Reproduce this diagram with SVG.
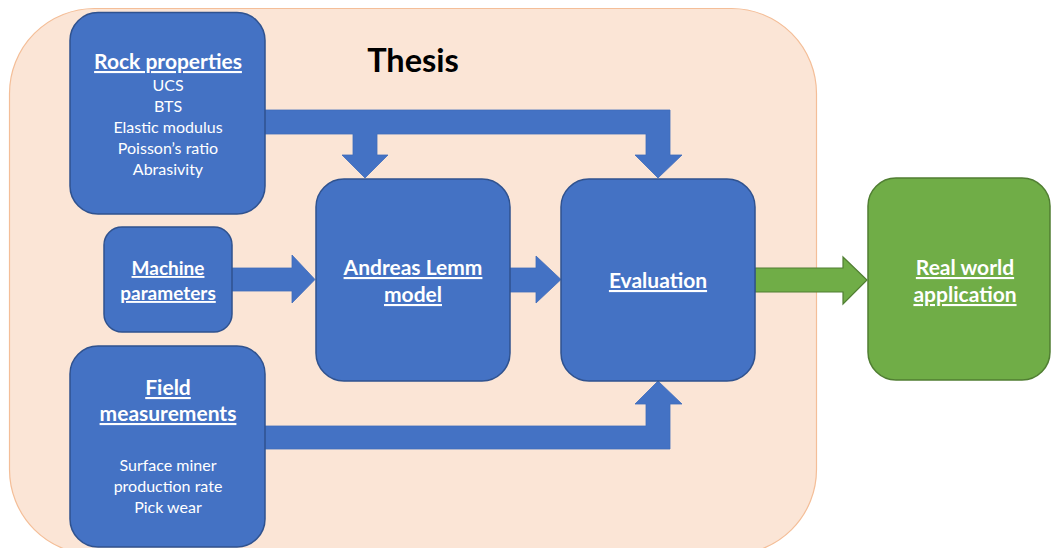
<svg xmlns="http://www.w3.org/2000/svg" width="1052" height="548" viewBox="0 0 1052 548">
<style>
.box{fill:#4472C4;stroke:#2F528F;stroke-width:1.5}
.gbox{fill:#70AD47;stroke:#507E32;stroke-width:1.5}
.arrow{fill:#4472C4;stroke:#3F6CBB;stroke-width:0.8}
.garrow{fill:#70AD47;stroke:#507E32;stroke-width:1.2}
.t{font-family:Lato,"Open Sans","Liberation Sans",sans-serif;fill:#FFFFFF;text-anchor:middle}
.h{font-weight:bold;font-size:21px;text-decoration:underline}
.s{font-size:16px}
</style>
<rect width="1052" height="548" fill="#FFFFFF"/>
<g id="thesis">
<rect x="9.5" y="8.5" width="807" height="546" rx="85" fill="#FBE5D6" stroke="#F4BE98" stroke-width="1.2"/>
<text x="413" y="72" font-family="Lato,'Open Sans','Liberation Sans',sans-serif" font-weight="bold" font-size="32.5" text-anchor="middle" fill="#000000">Thesis</text>
</g>
<g id="connectors">
<polygon class="arrow" points="264,110 670,110 670,155 682,155 658,178 635,155 646,155 646,134 377,134 377,155 388,155 365,178 342,155 353,155 353,134 264,134"/>
<polygon class="arrow" points="231,268 292,268 292,255 315,279.5 292,303 292,291 231,291"/>
<polygon class="arrow" points="509,268 536,268 536,256 561,279.5 536,303 536,292 509,292"/>
<polygon class="arrow" points="264,426 646,426 646,404 635,404 658,381 682,404 670,404 670,449 264,449"/>
<polygon class="garrow" points="755,268 843,268 843,257 867,280 843,304 843,292 755,292"/>
</g>
<g id="rock">
<rect class="box" x="70" y="12.5" width="195" height="201.5" rx="28"/>
<text class="t h" x="168" y="69">Rock properties</text>
<text class="t s" x="168" y="91">UCS</text>
<text class="t s" x="168" y="112">BTS</text>
<text class="t s" x="168" y="133">Elastic modulus</text>
<text class="t s" x="168" y="154">Poisson’s ratio</text>
<text class="t s" x="168" y="175">Abrasivity</text>
</g>
<g id="machine">
<rect class="box" x="104" y="227" width="128" height="105" rx="18"/>
<text class="t h" x="168" y="275" style="font-size:19px">Machine</text>
<text class="t h" x="168" y="300" style="font-size:19px">parameters</text>
</g>
<g id="field">
<rect class="box" x="70" y="346" width="195" height="201" rx="28"/>
<text class="t h" x="168" y="395">Field</text>
<text class="t h" x="168" y="421">measurements</text>
<text class="t s" x="168" y="471">Surface miner</text>
<text class="t s" x="168" y="492">production rate</text>
<text class="t s" x="168" y="513">Pick wear</text>
</g>
<g id="lemm">
<rect class="box" x="316" y="179" width="194" height="202" rx="28"/>
<text class="t h" x="413" y="275">Andreas Lemm</text>
<text class="t h" x="413" y="302">model</text>
</g>
<g id="evaluation">
<rect class="box" x="561" y="179" width="194" height="202" rx="28"/>
<text class="t h" x="658" y="288">Evaluation</text>
</g>
<g id="realworld">
<rect class="gbox" x="868" y="178" width="182" height="202" rx="28"/>
<text class="t h" x="965" y="275">Real world</text>
<text class="t h" x="965" y="302">application</text>
</g>
</svg>
